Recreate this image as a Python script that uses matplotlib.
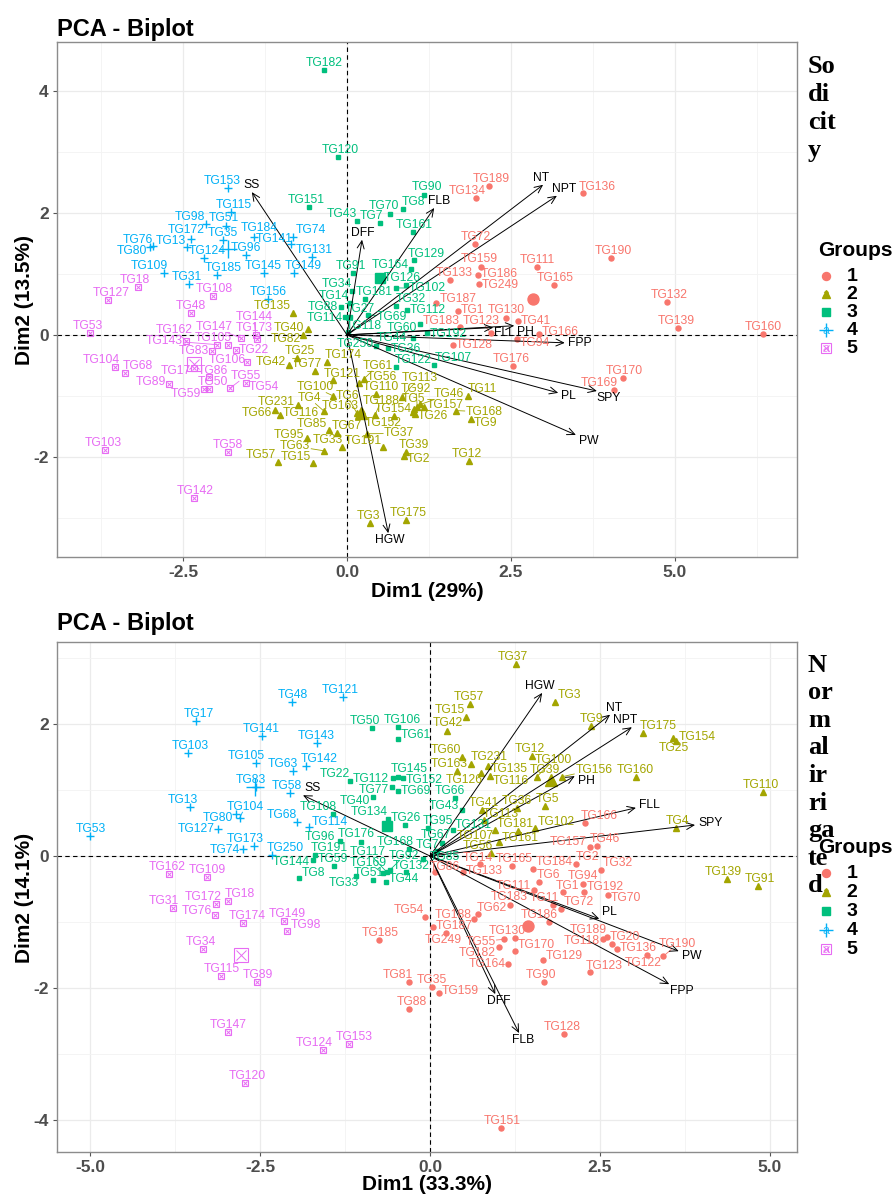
import matplotlib
matplotlib.use("Agg")
import matplotlib.pyplot as plt
import numpy as np

plt.rcParams['font.family'] = ['Liberation Sans', 'DejaVu Sans']
plt.rcParams['axes.unicode_minus'] = False

COLORS = ['#F8766D', '#A3A500', '#00BF7D', '#00B0F6', '#E76BF3']

# ── Sodicity: group 1 ─────────────────────────────────────────────────────────
sod_g1_lab = ["TG189", "TG134", "TG136", "TG72", "TG159", "TG186", "TG133", "TG249",
              "TG190", "TG111", "TG165", "TG187", "TG1", "TG183", "TG130", "TG41",
              "TG123", "TG128", "TG94", "TG166", "TG176", "TG132", "TG139", "TG160",
              "TG170", "TG169"]
sod_g1_x = [2.16, 1.97, 3.60, 1.95, 2.05, 2.00, 1.57, 2.01, 4.02, 2.89, 3.16, 1.36, 1.69,
            1.72, 2.42, 2.60, 2.19, 1.62, 2.59, 2.92, 2.53, 4.88, 5.05, 6.34, 4.21, 4.07]
sod_g1_y = [2.44, 2.25, 2.32, 1.49, 1.12, 0.98, 0.90, 0.84, 1.26, 1.11, 0.81, 0.52, 0.39,
            0.13, 0.28, 0.22, 0.03, -0.16, -0.07, 0.02, -0.51, 0.54, 0.11, 0.02, -0.71, -0.90]

# ── Sodicity: group 2 ─────────────────────────────────────────────────────────
sod_g2_lab = ["TG135", "TG40", "TG82", "TG25", "TG42", "TG174", "TG77", "TG121", "TG100",
              "TG66", "TG116", "TG231", "TG4", "TG85", "TG67", "TG95", "TG63", "TG33",
              "TG57", "TG15", "TG61", "TG56", "TG110", "TG163", "TG6", "TG188", "TG152",
              "TG113", "TG92", "TG157", "TG46", "TG154", "TG26", "TG5", "TG191", "TG37",
              "TG39", "TG2", "TG12", "TG11", "TG9", "TG168", "TG175", "TG3"]
sod_g2_x = [-0.82, -0.60, -0.67, -0.76, -0.88, -0.30, -0.49, -0.21, -0.21, -1.10, -1.02,
            -0.75, -0.35, -0.27, -0.15, -0.61, -0.35, -0.08, -1.05, -0.52, 0.26, 0.18,
            0.44, 0.23, 0.15, 0.43, 0.72, 0.84, 1.07, 1.17, 1.12, 1.00, 1.04, 1.02, 0.55,
            0.30, 0.90, 0.87, 1.86, 1.85, 1.89, 1.66, 0.90, 0.35]
sod_g2_y = [0.36, 0.10, 0.00, -0.38, -0.49, -0.44, -0.59, -0.74, -1.00, -1.23, -1.31,
            -1.15, -1.25, -1.56, -1.61, -1.69, -1.90, -1.84, -2.08, -2.10, -0.72, -0.79,
            -0.97, -1.25, -1.28, -1.31, -1.33, -1.01, -1.18, -1.18, -1.14, -1.27, -1.30,
            -1.22, -1.84, -1.62, -1.92, -1.98, -2.07, -1.00, -1.38, -1.24, -3.03, -3.08]

# ── Sodicity: group 3 ─────────────────────────────────────────────────────────
sod_g3_lab = ["TG182", "TG120", "TG151", "TG90", "TG8", "TG43", "TG7", "TG70", "TG161",
              "TG164", "TG129", "TG102", "TG126", "TG34", "TG91", "TG88", "TG14", "TG181",
              "TG32", "TG112", "TG60", "TG69", "TG27", "TG114", "TG118", "TG250", "TG36",
              "TG44", "TG122", "TG107", "TG192"]
sod_g3_x = [-0.35, -0.13, -0.58, 1.17, 0.85, 0.15, 0.50, 0.66, 1.01, 0.98, 1.02, 0.75,
            0.90, 0.08, 0.09, -0.09, 0.05, 0.27, 0.75, 0.91, 1.11, 0.32, 0.05, -0.03, 0.02,
            0.45, 0.62, 1.00, 0.75, 1.33, 1.22]
sod_g3_y = [4.34, 2.92, 2.10, 2.30, 2.07, 1.87, 1.83, 1.98, 1.69, 1.08, 1.22, 0.77, 0.82,
            0.72, 1.02, 0.45, 0.52, 0.59, 0.48, 0.40, 0.18, 0.33, 0.30, 0.30, 0.05, -0.18,
            -0.22, -0.05, -0.52, -0.49, 0.03]

# ── Sodicity: group 4 ─────────────────────────────────────────────────────────
sod_g4_lab = ["TG153", "TG115", "TG51", "TG98", "TG172", "TG35", "TG80", "TG76", "TG13",
              "TG96", "TG184", "TG141", "TG74", "TG131", "TG145", "TG149", "TG109",
              "TG124", "TG31", "TG185", "TG156"]
sod_g4_x = [-1.81, -1.77, -1.84, -2.15, -2.38, -1.89, -3.00, -2.95, -2.44, -1.54, -1.42,
            -0.85, -0.82, -0.53, -1.27, -0.81, -2.79, -2.18, -2.41, -1.98, -1.20]
sod_g4_y = [2.41, 2.02, 1.79, 1.82, 1.57, 1.56, 1.44, 1.45, 1.44, 1.31, 1.61, 1.49, 1.61,
            1.28, 1.02, 1.02, 1.02, 1.26, 0.84, 0.98, 0.59]

# ── Sodicity: group 5 ─────────────────────────────────────────────────────────
sod_g5_lab = ["TG18", "TG127", "TG53", "TG48", "TG108", "TG162", "TG143", "TG105", "TG147",
              "TG173", "TG83", "TG22", "TG144", "TG104", "TG68", "TG17", "TG106", "TG86",
              "TG59", "TG50", "TG89", "TG54", "TG55", "TG103", "TG58", "TG142"]
sod_g5_x = [-3.19, -3.64, -3.92, -2.38, -2.04, -2.45, -1.98, -1.81, -1.62, -1.37, -2.06,
            -1.69, -1.39, -3.54, -3.38, -2.33, -1.52, -2.10, -2.18, -2.10, -2.71, -1.54,
            -1.78, -3.69, -1.81, -2.33]
sod_g5_y = [0.79, 0.57, 0.03, 0.36, 0.63, -0.10, -0.16, -0.17, -0.05, -0.07, -0.26, -0.25,
            0.00, -0.52, -0.62, -0.54, -0.44, -0.69, -0.89, -0.88, -0.80, -0.79, -0.87,
            -1.89, -1.92, -2.67]

# ── Sodicity: variables ───────────────────────────────────────────────────────
sod_var = ["SS", "DFF", "FLB", "NT", "NPT", "PH", "FLL", "FPP", "PL", "SPY", "PW", "HGW"]
sod_var_x = [-1.45, 0.23, 1.33, 2.99, 3.20, 2.55, 2.23, 3.32, 3.22, 3.81, 3.49, 0.63]
sod_var_y = [2.34, 1.56, 2.08, 2.46, 2.28, 0.15, 0.12, -0.13, -0.95, -0.92, -1.64, -3.25]

# ── Normal irrigated: group 1 ─────────────────────────────────────────────────
nor_g1_lab = ["TG14", "TG165", "TG184", "TG2", "TG32", "TG157", "TG46", "TG166", "TG6",
              "TG111", "TG94", "TG192", "TG1", "TG70", "TG133", "TG86", "TG183", "TG62",
              "TG188", "TG11", "TG72", "TG186", "TG118", "TG20", "TG136", "TG189",
              "TG190", "TG122", "TG54", "TG187", "TG249", "TG55", "TG130", "TG170",
              "TG182", "TG164", "TG129", "TG123", "TG90", "TG35", "TG159", "TG81",
              "TG88", "TG128", "TG151", "TG185"]
nor_g1_x = [0.73, 1.20, 1.52, 2.15, 2.51, 2.35, 2.45, 2.28, 1.60, 1.53, 2.25, 2.27, 1.95,
            2.62, 0.48, 0.07, 1.18, 0.70, 0.65, 1.81, 1.93, 1.75, 2.54, 2.68, 2.75, 2.60,
            3.43, 3.19, -0.08, 0.05, 0.24, 1.09, 1.25, 1.25, 1.01, 1.15, 1.66, 2.35, 1.67,
            0.03, 0.13, -0.31, -0.31, 1.97, 1.04, -0.75]
nor_g1_y = [-0.12, -0.15, -0.19, -0.12, -0.21, 0.13, 0.15, 0.50, -0.40, -0.52, -0.43, -0.55,
            -0.55, -0.59, -0.24, -0.24, -0.74, -0.88, -0.96, -0.74, -0.80, -1.00, -1.26,
            -1.33, -1.40, -1.22, -1.52, -1.50, -0.92, -1.08, -1.16, -1.26, -1.24, -1.44,
            -1.38, -1.64, -1.58, -1.76, -1.91, -1.98, -2.08, -1.91, -2.32, -2.70, -4.12,
            -1.27]

# ── Normal irrigated: group 2 ─────────────────────────────────────────────────
nor_g2_lab = ["TG37", "TG3", "TG57", "TG15", "TG42", "TG60", "TG231", "TG163", "TG135",
              "TG126", "TG12", "TG9", "TG100", "TG39", "TG156", "TG116", "TG41", "TG113",
              "TG36", "TG5", "TG107", "TG181", "TG102", "TG161", "TG56", "TG175", "TG154",
              "TG25", "TG160", "TG110", "TG4", "TG139", "TG91"]
nor_g2_x = [1.26, 1.84, 0.59, 0.53, 0.25, 0.47, 0.60, 0.40, 0.85, 0.75, 1.50, 2.37, 1.57,
            1.80, 1.94, 0.88, 0.76, 0.80, 1.28, 1.69, 0.95, 1.30, 1.54, 1.01, 0.90, 3.13,
            3.57, 3.62, 3.03, 4.90, 3.62, 4.37, 4.82]
nor_g2_y = [2.91, 2.33, 2.30, 2.11, 1.90, 1.50, 1.39, 1.29, 1.36, 1.25, 1.52, 1.97, 1.20,
            1.15, 1.20, 1.21, 0.70, 0.55, 0.72, 0.76, 0.40, 0.38, 0.42, 0.21, 0.05, 1.86,
            1.79, 1.74, 1.20, 0.97, 0.42, -0.35, -0.45]

# ── Normal irrigated: group 3 ─────────────────────────────────────────────────
nor_g3_lab = ["TG106", "TG50", "TG61", "TG152", "TG77", "TG145", "TG112", "TG22", "TG40",
              "TG69", "TG66", "TG43", "TG108", "TG134", "TG131", "TG96", "TG176", "TG168",
              "TG95", "TG67", "TG7", "TG85", "TG144", "TG191", "TG59", "TG8", "TG33",
              "TG51", "TG169", "TG117", "TG92", "TG44", "TG132", "TG26"]
nor_g3_x = [-0.47, -0.85, -0.47, -0.40, -0.56, -0.47, -0.54, -1.18, -0.84, -0.47, 0.37,
            0.47, -1.43, -0.62, 0.34, -1.32, -1.01, -0.31, -0.03, 0.18, 0.10, -0.10,
            -1.73, -1.70, -1.41, -1.93, -1.09, -0.84, -0.69, -0.64, -0.59, -0.65, -0.35,
            -0.37]
nor_g3_y = [1.96, 1.94, 1.77, 1.18, 1.05, 1.20, 1.18, 1.14, 0.89, 0.98, 0.88, 0.70, 0.64,
            0.56, 0.39, 0.23, 0.21, 0.11, 0.42, 0.20, 0.08, -0.05, -0.06, 0.02, -0.15,
            -0.33, -0.30, -0.36, -0.26, -0.24, -0.21, -0.39, -0.24, 0.47]

# ── Normal irrigated: group 4 ─────────────────────────────────────────────────
nor_g4_lab = ["TG48", "TG121", "TG17", "TG141", "TG143", "TG103", "TG105", "TG142", "TG63",
              "TG83", "TG58", "TG68", "TG13", "TG80", "TG104", "TG114", "TG127", "TG173",
              "TG74", "TG250", "TG53"]
nor_g4_x = [-2.03, -1.28, -3.44, -2.47, -1.66, -3.56, -2.56, -1.82, -2.01, -2.56, -2.06,
            -1.96, -3.54, -2.85, -2.80, -1.78, -3.12, -2.59, -2.76, -2.32, -5.00]
nor_g4_y = [2.33, 2.41, 2.05, 1.82, 1.71, 1.56, 1.41, 1.36, 1.29, 1.05, 0.95, 0.52, 0.74,
            0.64, 0.58, 0.44, 0.41, 0.15, 0.10, 0.02, 0.30]

# ── Normal irrigated: group 5 ─────────────────────────────────────────────────
nor_g5_lab = ["TG162", "TG109", "TG18", "TG31", "TG172", "TG76", "TG149", "TG174", "TG98",
              "TG34", "TG115", "TG89", "TG147", "TG153", "TG124", "TG120"]
nor_g5_x = [-3.84, -3.28, -2.98, -3.78, -3.15, -3.16, -2.15, -2.75, -2.10, -3.34, -3.07,
            -2.54, -2.98, -1.19, -1.57, -2.73]
nor_g5_y = [-0.27, -0.32, -0.68, -0.79, -0.72, -0.89, -0.98, -1.02, -1.14, -1.41, -1.82,
            -1.91, -2.67, -2.85, -2.94, -3.44]

# ── Normal irrigated: variables ───────────────────────────────────────────────
nor_var = ["HGW", "NT", "NPT", "PH", "FLL", "SPY", "PL", "PW", "FPP", "DFF", "FLB", "SS"]
nor_var_x = [1.65, 2.65, 2.97, 2.13, 3.03, 3.90, 2.49, 3.66, 3.52, 0.96, 1.31, -1.87]
nor_var_y = [2.47, 2.14, 1.95, 1.21, 0.73, 0.47, -0.95, -1.44, -1.94, -2.09, -2.68, 0.92]

group_names = ["1", "2", "3", "4", "5"]

LABEL_SIZE = 8.7
FIG_W, FIG_H = 893, 1195


def draw_marker(ax, gi, x, y, scale=1.0, **kw):
    c = COLORS[gi]
    if gi == 0:
        ax.plot(x, y, 'o', ms=3.6 * scale, color=c, mec=c, ls='none', **kw)
    elif gi == 1:
        ax.plot(x, y, '^', ms=4.0 * scale, color=c, mec=c, ls='none', **kw)
    elif gi == 2:
        ax.plot(x, y, 's', ms=3.4 * scale, color=c, mec=c, ls='none', **kw)
    elif gi == 3:
        ax.plot(x, y, '+', ms=6.0 * scale, color=c, mew=1.0, ls='none', **kw)
    else:
        ax.plot(x, y, 's', ms=4.4 * scale, mfc='none', mec=c, mew=0.8, ls='none', **kw)
        ax.plot(x, y, 'x', ms=3.0 * scale, color=c, mew=0.7, ls='none', **kw)


def repel(anchor, start, obst, W, H, bbox, n_iter=800):
    L = start.copy()
    for it in range(n_iter):
        dx = L[:, 0][:, None] - L[:, 0][None, :]
        dy = L[:, 1][:, None] - L[:, 1][None, :]
        ox = (W[:, None] + W[None, :]) / 2 + 1.0 - np.abs(dx)
        oy = (H[:, None] + H[None, :]) / 2 + 0.5 - np.abs(dy)
        ov = (ox > 0) & (oy > 0)
        np.fill_diagonal(ov, False)
        d = np.hypot(dx, dy) + 1e-6
        mag = np.where(ov, np.minimum(ox, oy), 0.0)
        fx = (mag * dx / d).sum(1)
        fy = (mag * dy / d).sum(1)
        ex = L[:, 0][:, None] - obst[:, 0][None, :]
        ey = L[:, 1][:, None] - obst[:, 1][None, :]
        qx = W[:, None] / 2 + 2.5 - np.abs(ex)
        qy = H[:, None] / 2 + 2.0 - np.abs(ey)
        pv = (qx > 0) & (qy > 0)
        de = np.hypot(ex, ey) + 1e-6
        pm = np.where(pv, np.minimum(qx, qy), 0.0)
        fx += (pm * ex / de).sum(1)
        fy += (pm * ey / de).sum(1)
        fx += (anchor[:, 0] - L[:, 0]) * 0.03
        fy += (anchor[:, 1] - L[:, 1]) * 0.03
        L[:, 0] += np.clip(fx * 0.5, -2.5, 2.5)
        L[:, 1] += np.clip(fy * 0.5, -2.5, 2.5)
        L[:, 0] = np.clip(L[:, 0], bbox.x0 + W / 2 + 1, bbox.x1 - W / 2 - 1)
        L[:, 1] = np.clip(L[:, 1], bbox.y0 + H / 2 + 1, bbox.y1 - H / 2 - 1)
    return L


def draw_panel(fig, ax, groups, var, var_x, var_y, xlim, ylim, xticks, yticks, xfmt):
    sx = xticks[1] - xticks[0]
    sy = yticks[1] - yticks[0]
    ax.set_xticks(np.arange(xticks[0] - sx * 3.5, xlim[1], sx), minor=True)
    ax.set_yticks(np.arange(yticks[0] - sy * 3.5, ylim[1], sy), minor=True)
    ax.set_xticks(xticks)
    ax.set_xticklabels([xfmt.format(v) for v in xticks])
    ax.set_yticks(yticks)
    ax.set_yticklabels([f"{v:g}" for v in yticks])
    ax.set_xlim(xlim)
    ax.set_ylim(ylim)
    ax.grid(which='major', color='#EBEBEB', lw=0.9)
    ax.grid(which='minor', color='#F3F3F3', lw=0.6)
    ax.set_axisbelow(True)
    ax.tick_params(which='minor', length=0)
    ax.tick_params(which='major', length=3, color='#555555', width=0.8,
                   labelsize=12.5, labelcolor='#4D4D4D', pad=3)
    for lbl in ax.get_xticklabels() + ax.get_yticklabels():
        lbl.set_fontweight('bold')
    for s in ax.spines.values():
        s.set_color('#8C8C8C')
        s.set_linewidth(1.0)
    ax.axhline(0, color='black', lw=0.8, ls=(0, (4, 3)), zorder=1)
    ax.axvline(0, color='black', lw=0.8, ls=(0, (4, 3)), zorder=1)

    labs, xs, ys, cols, obst = [], [], [], [], []
    for gi, (lab, gx, gy) in enumerate(groups):
        draw_marker(ax, gi, gx, gy, zorder=3)
        draw_marker(ax, gi, [np.mean(gx)], [np.mean(gy)], scale=2.2, zorder=3)
        labs += lab
        xs += gx
        ys += gy
        cols += [COLORS[gi]] * len(lab)
        obst.append([np.mean(gx), np.mean(gy)])

    for vx, vy in zip(var_x, var_y):
        ax.annotate('', xy=(vx, vy), xytext=(0, 0),
                    arrowprops=dict(arrowstyle='->,head_length=0.55,head_width=0.25',
                                    lw=0.7, color='black', shrinkA=0, shrinkB=0),
                    zorder=4)

    n_pts = len(labs)
    labs += var
    xs += var_x
    ys += var_y
    cols += ['black'] * len(var)

    ax.set_xlim(xlim)
    ax.set_ylim(ylim)
    T = ax.transData
    A = T.transform(np.c_[xs, ys])
    O = np.vstack([A, T.transform(np.array(obst))])
    renderer = fig.canvas.get_renderer()
    texts, W, H = [], [], []
    for lab, x, y, c in zip(labs, xs, ys, cols):
        t = ax.text(x, y, lab, fontsize=LABEL_SIZE, color=c, ha='center', va='center',
                    zorder=5)
        bb = t.get_window_extent(renderer)
        texts.append(t)
        W.append(bb.width + 2)
        H.append(bb.height * 0.8 + 1)
    W = np.array(W)
    H = np.array(H)

    ang = np.arange(len(labs)) * 2.39996
    start = A + np.c_[np.cos(ang) * 3, H * 0.75 + np.sin(ang) * 1.5]
    # variable labels start a little beyond the arrow tip
    origin = T.transform((0, 0))
    for i in range(n_pts, len(labs)):
        v = A[i] - origin
        start[i] = A[i] + v / (np.hypot(*v) + 1e-6) * 9
    bbox = ax.get_window_extent(renderer)
    L = repel(A, start, O, W, H, bbox)

    inv = T.inverted()
    for i, t in enumerate(texts):
        t.set_position(inv.transform(L[i]))
        v = A[i] - L[i]
        if abs(v[0]) <= W[i] / 2 + 1 and abs(v[1]) <= H[i] / 2 + 1:
            continue
        tt = min((W[i] / 2) / (abs(v[0]) + 1e-9), (H[i] / 2) / (abs(v[1]) + 1e-9))
        E = L[i] + v * tt
        if np.hypot(*(A[i] - E)) > 6:
            P0 = inv.transform(A[i])
            P1 = inv.transform(E)
            ax.plot([P0[0], P1[0]], [P0[1], P1[1]], color=cols[i], lw=0.6, zorder=2)
    ax.set_xlim(xlim)
    ax.set_ylim(ylim)


def draw_legend(ov, top, step):
    ov.text(818, top, "Groups", fontsize=15, fontweight='bold', ha='left', va='center')
    for gi, name in enumerate(group_names):
        y = top + 26 + gi * step
        ov.text(826, y + 1, "a", fontsize=9, color=COLORS[gi], ha='center', va='center',
                alpha=0.8)
        draw_marker(ov, gi, [826], [y], scale=1.6)
        ov.text(852, y, name, fontsize=14, fontweight='bold', ha='center', va='center')


fig = plt.figure(figsize=(FIG_W / 100, FIG_H / 100), dpi=100)
ax1 = fig.add_axes([57 / FIG_W, 1 - 557 / FIG_H, 740 / FIG_W, 515 / FIG_H])
ax2 = fig.add_axes([57 / FIG_W, 1 - 1152 / FIG_H, 740 / FIG_W, 510 / FIG_H])

sod_groups = [(sod_g1_lab, sod_g1_x, sod_g1_y), (sod_g2_lab, sod_g2_x, sod_g2_y),
              (sod_g3_lab, sod_g3_x, sod_g3_y), (sod_g4_lab, sod_g4_x, sod_g4_y),
              (sod_g5_lab, sod_g5_x, sod_g5_y)]
nor_groups = [(nor_g1_lab, nor_g1_x, nor_g1_y), (nor_g2_lab, nor_g2_x, nor_g2_y),
              (nor_g3_lab, nor_g3_x, nor_g3_y), (nor_g4_lab, nor_g4_x, nor_g4_y),
              (nor_g5_lab, nor_g5_x, nor_g5_y)]

draw_panel(fig, ax1, sod_groups, sod_var, sod_var_x, sod_var_y, (-4.42, 6.86), (-3.64, 4.80),
           [-2.5, 0.0, 2.5, 5.0], [-2, 0, 2, 4], "{:.1f}")
draw_panel(fig, ax2, nor_groups, nor_var, nor_var_x, nor_var_y, (-5.49, 5.40), (-4.48, 3.24),
           [-5.0, -2.5, 0.0, 2.5, 5.0], [-4, -2, 0, 2], "{:.1f}")

# overlay in figure pixels for titles, axis titles and legends
ov = fig.add_axes([0, 0, 1, 1], facecolor='none')
ov.set_xlim(0, FIG_W)
ov.set_ylim(FIG_H, 0)
ov.axis('off')

ov.text(57, 29, "PCA - Biplot", fontsize=17, fontweight='bold', ha='left', va='center')
ov.text(57, 623, "PCA - Biplot", fontsize=17, fontweight='bold', ha='left', va='center')
ov.text(427, 591, "Dim1 (29%)", fontsize=15, fontweight='bold', ha='center', va='center')
ov.text(427, 1185, "Dim1 (33.3%)", fontsize=15, fontweight='bold', ha='center', va='center')
ov.text(25, 300, "Dim2 (13.5%)", fontsize=15, fontweight='bold', ha='center', va='center',
        rotation=90)
ov.text(25, 898, "Dim2 (14.1%)", fontsize=15, fontweight='bold', ha='center', va='center',
        rotation=90)

for i, part in enumerate(["So", "di", "cit", "y"]):
    ov.text(808, 66 + i * 28.3, part, fontsize=19, fontweight='bold', ha='left',
            va='center', family='Liberation Serif')
for i, part in enumerate(["N", "or", "m", "al", "ir", "ri", "ga", "te", "d"]):
    ov.text(808, 665 + i * 27.6, part, fontsize=19, fontweight='bold', ha='left',
            va='center', family='Liberation Serif')

draw_legend(ov, 250, 18)
draw_legend(ov, 847, 19)

fig.savefig("out.png", dpi=100)
